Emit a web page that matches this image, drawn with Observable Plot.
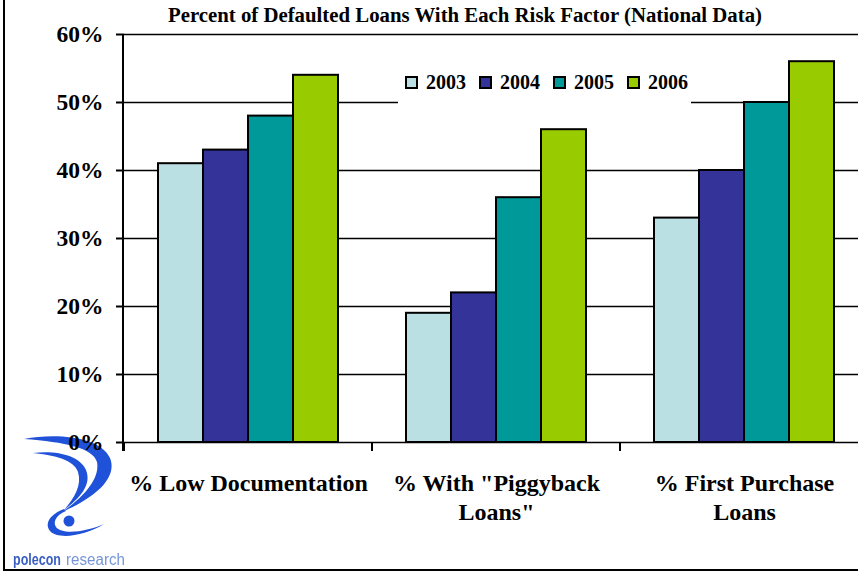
<!DOCTYPE html>
<html>
<head>
<meta charset="utf-8">
<script src="https://cdn.jsdelivr.net/npm/d3@7"></script>
<script src="https://cdn.jsdelivr.net/npm/@observablehq/plot@0.6"></script>
<style>
  html, body { margin: 0; padding: 0; background: #fff; }
  #chart { position: relative; width: 858px; height: 573px; overflow: hidden; background: #fff;
           font-family: "Liberation Serif", "Times New Roman", serif; font-weight: bold; color: #000; }
  #chart > * { position: absolute; left: 0; top: 0; }
  #chart svg text { font-family: "Liberation Serif", "Times New Roman", serif; }
  #chart svg text.brand { font-family: "Liberation Sans Narrow", "Liberation Sans", sans-serif; }
  #title { top: 4px; left: 465px; transform: translateX(-50%); white-space: nowrap; font-size: 20.8px; line-height: 22px; }
</style>
</head>
<body>
<div id="chart"></div>
<script>
// ---- data ----
const categories = ["% Low Documentation", "% With \"Piggyback Loans\"", "% First Purchase Loans"];
const categoryLabels = ["% Low Documentation", "% With \"Piggyback\nLoans\"", "% First Purchase\nLoans"];
const years = ["2003", "2004", "2005", "2006"];
const lowDocumentation = [41, 43, 48, 54];
const piggybackLoans = [19, 22, 36, 46];
const firstPurchase = [33, 40, 50, 56];
const yearColors = ["#bbe0e3", "#333399", "#009999", "#99cc00"];
const yTicks = [0, 10, 20, 30, 40, 50, 60];
const titleText = "Percent of Defaulted Loans With Each Risk Factor (National Data)";
const brand = ["polecon", "research"];

const serif = "Liberation Serif, Times New Roman, serif";
const seriesByCategory = [lowDocumentation, piggybackLoans, firstPurchase];
const rows = categories.flatMap((cat, i) =>
  years.map((year, j) => ({cat, year, value: seriesByCategory[i][j]})));
const labelRows = categories.map((cat, i) => ({cat, label: categoryLabels[i]}));

const W = 858, H = 573;
const chart = d3.select("#chart");

// ---- logo (bottom-left, behind the chart) ----
const logo = chart.append("svg").attr("width", W).attr("height", H);
const lg = logo.append("g").attr("fill", "#1f52d9").style("filter", "blur(0.5px)");
lg.append("path").attr("d", "M24,439 C55,433 100,436 110,458 C118,478 95,498 62,512 C85,496 100,478 97,462 C93,448 65,442 24,439 Z");
lg.append("path").attr("d", "M33,453 C55,450 80,455 86,470 C92,485 80,498 64,510 C75,497 82,485 78,472 C74,460 55,455 33,453 Z");
lg.append("path").attr("d", "M64,509 C50,514 44,524 50,531 C58,540 85,536 104,524 C86,532 62,535 56,527 C52,521 58,514 66,511 Z");
lg.append("circle").attr("cx", 69).attr("cy", 521).attr("r", 5.5);
const brandStyle = [
  {x: 13, len: 48, fill: "#3a5fc2", weight: "bold"},
  {x: 66, len: 59, fill: "#7595d8", weight: "normal"}
];
logo.append("g").attr("transform", "translate(0,565) scale(1,1.25)")
  .selectAll("text.brand").data(brand).join("text").attr("class", "brand")
  .attr("x", (d, i) => brandStyle[i].x).attr("y", 0)
  .attr("textLength", (d, i) => brandStyle[i].len).attr("lengthAdjust", "spacingAndGlyphs")
  .attr("font-size", 13).attr("fill", (d, i) => brandStyle[i].fill)
  .attr("font-weight", (d, i) => brandStyle[i].weight)
  .style("filter", "blur(0.3px)").text(d => d);

// ---- the chart ----
const plot = Plot.plot({
  width: W,
  height: H,
  marginTop: 34,
  marginBottom: 131,
  marginLeft: 123,
  marginRight: 0,
  style: {background: "transparent", fontFamily: serif, fontWeight: "bold", fontSize: "22px", color: "#000"},
  fx: {domain: categories, range: [123, 868.5], padding: 0, axis: null, label: null},
  x: {domain: years, paddingInner: 0, paddingOuter: 0.73, axis: null},
  y: {domain: [0, 60], axis: null},
  color: {domain: years, range: yearColors},
  marks: [
    Plot.ruleY(yTicks, {stroke: "#000", strokeWidth: 1.6}),
    Plot.barY(rows, {fx: "cat", x: "year", y: "value", fill: "year", stroke: "#000", strokeWidth: 2}),
    Plot.axisY({ticks: yTicks, tickFormat: d => `${d}%`, tickSize: 8, tickPadding: 13,
                strokeWidth: 2, fontSize: 23.5, fontFamily: serif, fontWeight: "bold", label: null}),
    Plot.text(labelRows, {fx: "cat", text: "label", frameAnchor: "bottom", lineAnchor: "top",
                          dy: 29, fontSize: 24, fontFamily: serif, fontWeight: "bold", lineHeight: 1.17})
  ]
});
chart.node().appendChild(plot);

// ---- axis line, group ticks, legend and frame, placed with the chart's scales ----
const fx = plot.scale("fx"), y = plot.scale("y"), color = plot.scale("color");
const over = chart.append("svg").attr("width", W).attr("height", H);
const y0 = y.apply(0), yTop = y.apply(60);
const fxLeft = fx.range[0];
over.append("line").attr("x1", fxLeft).attr("x2", fxLeft).attr("y1", yTop).attr("y2", y0 + 9)
  .attr("stroke", "#000").attr("stroke-width", 2);
over.selectAll("line.gt").data(categories).join("line").attr("class", "gt")
  .attr("x1", d => fx.apply(d)).attr("x2", d => fx.apply(d))
  .attr("y1", y0).attr("y2", y0 + 9).attr("stroke", "#000").attr("stroke-width", 2);

// legend box sits over the gridline
const leg = over.append("g");
leg.append("rect").attr("x", 398).attr("y", 58).attr("width", 293).attr("height", 47).attr("fill", "#fff");
const item = leg.selectAll("g.item").data(years).join("g").attr("class", "item")
  .attr("transform", (d, i) => `translate(${406 + i * 74},77)`);
item.append("rect").attr("width", 11).attr("height", 11).attr("fill", d => color.apply(d))
  .attr("stroke", "#000").attr("stroke-width", 2);
item.append("text").attr("x", 20).attr("y", 11.5).text(d => d)
  .attr("font-weight", "bold").attr("font-size", 20);

// outer frame (left and bottom edges)
over.append("path").attr("d", `M4,0V570H${W}`).attr("fill", "none").attr("stroke", "#000").attr("stroke-width", 2);

// ---- title ----
chart.append("div").attr("id", "title").text(titleText);
</script>
</body>
</html>
